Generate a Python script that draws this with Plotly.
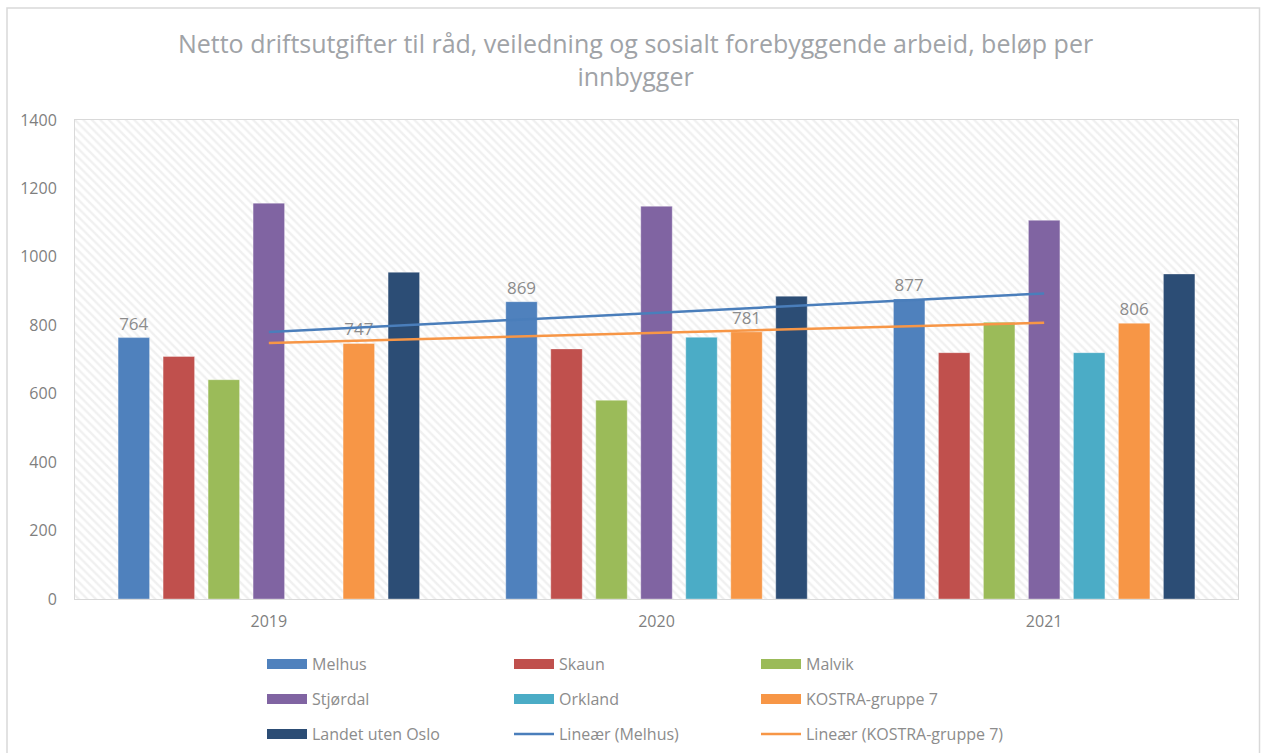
import numpy as np
import plotly.graph_objects as go

# ---------------- data ----------------
years = ["2019", "2020", "2021"]
melhus = [764, 869, 877]
skaun = [709, 731, 720]
malvik = [641, 581, 809]
stjordal = [1157, 1148, 1107]
orkland = [None, 765, 720]
kostra = [747, 781, 806]
landet = [955, 885, 950]
y_ticks = [0, 200, 400, 600, 800, 1000, 1200, 1400]

title_text = ("Netto driftsutgifter til råd, veiledning og sosialt forebyggende arbeid, beløp per"
              "<br>innbygger")

FONT = "Open Sans"
GRID = "#d9d9d9"

series = [
    ("Melhus", melhus, "#4f81bd", True, "legend"),
    ("Skaun", skaun, "#c0504d", False, "legend"),
    ("Malvik", malvik, "#9bbb59", False, "legend"),
    ("Stjørdal", stjordal, "#8064a2", False, "legend2"),
    ("Orkland", orkland, "#4bacc6", False, "legend2"),
    ("KOSTRA-gruppe 7", kostra, "#f79646", True, "legend2"),
    ("Landet uten Oslo", landet, "#2c4d75", False, "legend3"),
]
trends = [
    ("Lineær (Melhus)", melhus, "#4a7ebb", "legend3"),
    ("Lineær (KOSTRA-gruppe 7)", kostra, "#f79646", "legend3"),
]

fig = go.Figure()

# hatched plot-area background (own hidden axes, drawn beneath the data axes)
fig.add_trace(go.Scatter(
    x=[0, 1, 1, 0, 0], y=[0, 0, 1, 1, 0], mode="none", fill="toself",
    fillcolor="white",
    fillpattern=dict(shape="\\", fgcolor="#e2e2e2", bgcolor="white", size=6, solidity=0.4),
    hoverinfo="skip", showlegend=False, xaxis="x", yaxis="y"))

for name, vals, color, labelled, leg in series:
    fig.add_trace(go.Bar(
        x=years, y=vals, name=name, showlegend=False,
        marker=dict(color=color, line=dict(color="rgba(255,255,255,0.35)", width=1)),
        text=[str(v) for v in vals] if labelled else None,
        textposition="outside" if labelled else "none",
        textfont=dict(family=FONT, size=17, color="#8c8c8c"),
        cliponaxis=False, xaxis="x2", yaxis="y2"))

# legend proxies for bar series (wide rectangular keys)
for name, vals, color, labelled, leg in series:
    fig.add_trace(go.Scatter(
        x=[None], y=[None], mode="lines", name=name, legend=leg,
        line=dict(color=color, width=10), hoverinfo="skip",
        xaxis="x2", yaxis="y2"))

idx = np.arange(len(years))
for name, vals, color, leg in trends:
    k, m = np.polyfit(idx, np.array(vals, dtype=float), 1)
    fig.add_trace(go.Scatter(
        x=years, y=k * idx + m, mode="lines", name=name, legend=leg,
        line=dict(color=color, width=2.5), xaxis="x2", yaxis="y2"))

L, R, T, B = 75, 23, 120, 154
W, H = 1261, 753
pw, ph = W - L - R, H - T - B


def py(ypx):
    return (H - B - ypx) / ph


def px(xpx):
    return (xpx - L) / pw


leg_common = dict(orientation="h", xanchor="left", yanchor="middle",
                  xref="container", yref="container",
                  font=dict(family=FONT, size=16, color="#8c8c8c"),
                  itemwidth=40,
                  entrywidth=192, entrywidthmode="pixels",
                  bgcolor="rgba(0,0,0,0)", traceorder="normal")

fig.update_layout(
    width=W, height=H,
    margin=dict(l=L, r=R, t=T, b=B, autoexpand=False),
    paper_bgcolor="white", plot_bgcolor="white",
    font=dict(family=FONT, color="#7f7f7f"),
    title=dict(text=title_text, x=0.504, xref="container", xanchor="center",
               y=1 - 53 / H, yref="container", yanchor="top",
               font=dict(family=FONT, size=25, color="#a0a3a7")),
    barmode="group", bargap=0.1875, bargroupgap=0.30,
    xaxis=dict(range=[0, 1], visible=False, fixedrange=True),
    yaxis=dict(range=[0, 1], visible=False, fixedrange=True),
    xaxis2=dict(overlaying="x", anchor="y2", side="bottom", type="category",
                tickson="boundaries", showgrid=True, gridcolor=GRID, gridwidth=1,
                showline=True, linecolor=GRID, linewidth=1, mirror=True,
                ticks="", ticklabelstandoff=8,
                tickfont=dict(family=FONT, size=16, color="#7f7f7f")),
    yaxis2=dict(overlaying="y", anchor="x2", side="left", range=[0, 1400],
                tickvals=y_ticks, showgrid=True, gridcolor=GRID, gridwidth=1,
                showline=True, linecolor=GRID, linewidth=1, mirror=True,
                zeroline=False, ticks="", ticklabelstandoff=14,
                tickfont=dict(family=FONT, size=16, color="#7f7f7f")),
    legend=dict(x=262 / W, y=1 - 664 / H, **leg_common),
    legend2=dict(x=262 / W, y=1 - 699 / H, **leg_common),
    legend3=dict(x=262 / W, y=1 - 734 / H, **leg_common),
    shapes=[dict(type="rect", xref="paper", yref="paper",
                 x0=px(7), x1=px(1259.5), y0=py(8), y1=py(770),
                 line=dict(color="#d9d9d9", width=1.5), fillcolor="rgba(0,0,0,0)",
                 layer="below")],
)

fig.write_html(
    "out.html",
    config={"displayModeBar": False},
    post_script="document.body.style.margin='0';document.body.style.overflow='hidden';",
)
